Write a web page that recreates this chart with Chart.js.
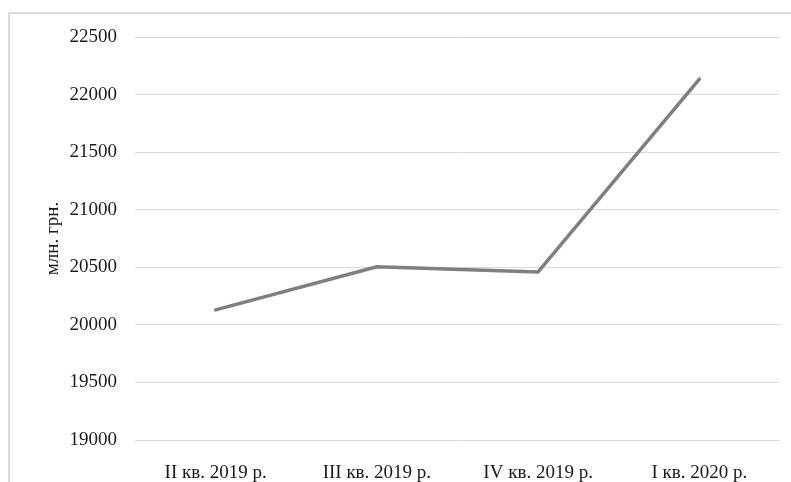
<!DOCTYPE html>
<html>
<head>
<meta charset="utf-8">
<script src="https://cdn.jsdelivr.net/npm/chart.js@4"></script>
<style>
  html, body { margin: 0; padding: 0; background: #fff; overflow: hidden; }
  #frame { position: absolute; left: 8px; top: 12px; width: 900px; height: 600px; border: 2px solid #d9d9d9; }
  #myChart { position: absolute; left: 0; top: 0; }
</style>
</head>
<body>
<div id="frame"></div>
<canvas id="myChart" width="791" height="482"></canvas>
<script>
// quarters
const labels = ['II кв. 2019 р.', 'III кв. 2019 р.', 'IV кв. 2019 р.', 'I кв. 2020 р.'];
// values, млн. грн.
const values = [20130, 20505, 20460, 22135];
const yMin = 19000;
const yMax = 22500;
const yStep = 500;
const yTitle = 'млн. грн.';

const ctx = document.getElementById('myChart').getContext('2d');
new Chart(ctx, {
    type: 'line',
    data: {
        labels: labels,
        datasets: [{
            data: values,
            borderColor: '#7f7f7f',
            borderWidth: 3.5,
            borderCapStyle: 'round',
            borderJoinStyle: 'round',
            pointRadius: 0,
            tension: 0,
            fill: false
        }]
    },
    options: {
        responsive: false,
        animation: false,
        layout: { padding: { top: 37, right: 11, left: 0, bottom: 0 } },
        plugins: {
            legend: { display: false },
            tooltip: { enabled: false }
        },
        scales: {
            x: {
                offset: true,
                grid: { display: false },
                border: { display: false },
                ticks: {
                    padding: 14,
                    color: '#1a1a1a',
                    font: { family: 'Liberation Serif', size: 19 },
                    maxRotation: 0
                },
                afterFit: function(axis) { axis.height = 42; }
            },
            y: {
                min: yMin,
                max: yMax,
                grid: { color: '#d9d9d9', lineWidth: 1, drawTicks: false },
                border: { display: false },
                ticks: {
                    stepSize: yStep,
                    padding: 18,
                    color: '#1a1a1a',
                    font: { family: 'Liberation Serif', size: 19 },
                    callback: function(v) { return String(v); }
                },
                title: {
                    display: true,
                    text: yTitle,
                    color: '#1a1a1a',
                    font: { family: 'Liberation Serif', size: 19 },
                    padding: { top: 42, bottom: 0 }
                },
                afterFit: function(axis) { axis.width = 135; }
            }
        }
    }
});
</script>
</body>
</html>
